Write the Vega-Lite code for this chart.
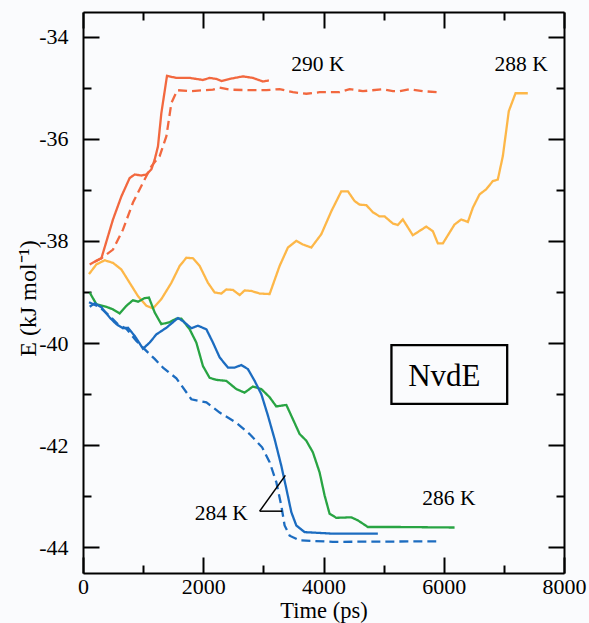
{
  "$schema": "https://vega.github.io/schema/vega-lite/v6.json",
  "width": 481,
  "height": 561,
  "autosize": {"type": "none"},
  "padding": {"left": 83, "top": 12, "right": 25, "bottom": 50},
  "background": "#fafbfd",
  "config": {
    "view": {"stroke": null},
    "font": "Liberation Serif",
    "axis": {
      "grid": false,
      "domainColor": "black",
      "domainWidth": 2,
      "tickColor": "black",
      "tickWidth": 2,
      "labelFont": "Liberation Serif",
      "labelFontSize": 22,
      "labelColor": "black",
      "labelOverlap": false,
      "labelFlush": false,
      "titleFont": "Liberation Serif",
      "titleFontSize": 24,
      "titleFontWeight": "normal",
      "titleColor": "black"
    }
  },
  "datasets": {
    "curves": [
      {"series": "290s", "temp": "290 K", "style": "solid", "time": 111, "energy": -38.46},
      {"series": "290s", "temp": "290 K", "style": "solid", "time": 306, "energy": -38.34},
      {"series": "290s", "temp": "290 K", "style": "solid", "time": 499, "energy": -37.58},
      {"series": "290s", "temp": "290 K", "style": "solid", "time": 638, "energy": -37.13},
      {"series": "290s", "temp": "290 K", "style": "solid", "time": 776, "energy": -36.77},
      {"series": "290s", "temp": "290 K", "style": "solid", "time": 860, "energy": -36.70},
      {"series": "290s", "temp": "290 K", "style": "solid", "time": 971, "energy": -36.72},
      {"series": "290s", "temp": "290 K", "style": "solid", "time": 1054, "energy": -36.70},
      {"series": "290s", "temp": "290 K", "style": "solid", "time": 1137, "energy": -36.60},
      {"series": "290s", "temp": "290 K", "style": "solid", "time": 1192, "energy": -36.41},
      {"series": "290s", "temp": "290 K", "style": "solid", "time": 1247, "energy": -36.15},
      {"series": "290s", "temp": "290 K", "style": "solid", "time": 1303, "energy": -35.50},
      {"series": "290s", "temp": "290 K", "style": "solid", "time": 1397, "energy": -34.77},
      {"series": "290s", "temp": "290 K", "style": "solid", "time": 1553, "energy": -34.81},
      {"series": "290s", "temp": "290 K", "style": "solid", "time": 1774, "energy": -34.81},
      {"series": "290s", "temp": "290 K", "style": "solid", "time": 1995, "energy": -34.85},
      {"series": "290s", "temp": "290 K", "style": "solid", "time": 2106, "energy": -34.81},
      {"series": "290s", "temp": "290 K", "style": "solid", "time": 2218, "energy": -34.83},
      {"series": "290s", "temp": "290 K", "style": "solid", "time": 2301, "energy": -34.87},
      {"series": "290s", "temp": "290 K", "style": "solid", "time": 2439, "energy": -34.83},
      {"series": "290s", "temp": "290 K", "style": "solid", "time": 2660, "energy": -34.78},
      {"series": "290s", "temp": "290 K", "style": "solid", "time": 2826, "energy": -34.81},
      {"series": "290s", "temp": "290 K", "style": "solid", "time": 2993, "energy": -34.88},
      {"series": "290s", "temp": "290 K", "style": "solid", "time": 3092, "energy": -34.86},

      {"series": "290d", "temp": "290 K", "style": "dashed", "time": 200, "energy": -38.40},
      {"series": "290d", "temp": "290 K", "style": "dashed", "time": 306, "energy": -38.34},
      {"series": "290d", "temp": "290 K", "style": "dashed", "time": 499, "energy": -38.17},
      {"series": "290d", "temp": "290 K", "style": "dashed", "time": 665, "energy": -37.78},
      {"series": "290d", "temp": "290 K", "style": "dashed", "time": 831, "energy": -37.25},
      {"series": "290d", "temp": "290 K", "style": "dashed", "time": 998, "energy": -36.86},
      {"series": "290d", "temp": "290 K", "style": "dashed", "time": 1137, "energy": -36.54},
      {"series": "290d", "temp": "290 K", "style": "dashed", "time": 1275, "energy": -36.34},
      {"series": "290d", "temp": "290 K", "style": "dashed", "time": 1387, "energy": -35.95},
      {"series": "290d", "temp": "290 K", "style": "dashed", "time": 1470, "energy": -35.30},
      {"series": "290d", "temp": "290 K", "style": "dashed", "time": 1569, "energy": -35.05},
      {"series": "290d", "temp": "290 K", "style": "dashed", "time": 1774, "energy": -35.07},
      {"series": "290d", "temp": "290 K", "style": "dashed", "time": 2161, "energy": -35.04},
      {"series": "290d", "temp": "290 K", "style": "dashed", "time": 2273, "energy": -35.00},
      {"series": "290d", "temp": "290 K", "style": "dashed", "time": 2439, "energy": -35.04},
      {"series": "290d", "temp": "290 K", "style": "dashed", "time": 2771, "energy": -35.05},
      {"series": "290d", "temp": "290 K", "style": "dashed", "time": 3049, "energy": -35.05},
      {"series": "290d", "temp": "290 K", "style": "dashed", "time": 3270, "energy": -35.03},
      {"series": "290d", "temp": "290 K", "style": "dashed", "time": 3491, "energy": -35.09},
      {"series": "290d", "temp": "290 K", "style": "dashed", "time": 3714, "energy": -35.12},
      {"series": "290d", "temp": "290 K", "style": "dashed", "time": 3935, "energy": -35.09},
      {"series": "290d", "temp": "290 K", "style": "dashed", "time": 4268, "energy": -35.09},
      {"series": "290d", "temp": "290 K", "style": "dashed", "time": 4434, "energy": -35.03},
      {"series": "290d", "temp": "290 K", "style": "dashed", "time": 4655, "energy": -35.07},
      {"series": "290d", "temp": "290 K", "style": "dashed", "time": 4988, "energy": -35.03},
      {"series": "290d", "temp": "290 K", "style": "dashed", "time": 5154, "energy": -35.07},
      {"series": "290d", "temp": "290 K", "style": "dashed", "time": 5265, "energy": -35.07},
      {"series": "290d", "temp": "290 K", "style": "dashed", "time": 5431, "energy": -35.03},
      {"series": "290d", "temp": "290 K", "style": "dashed", "time": 5653, "energy": -35.07},
      {"series": "290d", "temp": "290 K", "style": "dashed", "time": 5902, "energy": -35.09},

      {"series": "288s", "temp": "288 K", "style": "solid", "time": 100, "energy": -38.65},
      {"series": "288s", "temp": "288 K", "style": "solid", "time": 223, "energy": -38.46},
      {"series": "288s", "temp": "288 K", "style": "solid", "time": 361, "energy": -38.38},
      {"series": "288s", "temp": "288 K", "style": "solid", "time": 499, "energy": -38.43},
      {"series": "288s", "temp": "288 K", "style": "solid", "time": 638, "energy": -38.56},
      {"series": "288s", "temp": "288 K", "style": "solid", "time": 776, "energy": -38.82},
      {"series": "288s", "temp": "288 K", "style": "solid", "time": 914, "energy": -39.08},
      {"series": "288s", "temp": "288 K", "style": "solid", "time": 1054, "energy": -39.27},
      {"series": "288s", "temp": "288 K", "style": "solid", "time": 1164, "energy": -39.32},
      {"series": "288s", "temp": "288 K", "style": "solid", "time": 1303, "energy": -39.14},
      {"series": "288s", "temp": "288 K", "style": "solid", "time": 1470, "energy": -38.82},
      {"series": "288s", "temp": "288 K", "style": "solid", "time": 1608, "energy": -38.49},
      {"series": "288s", "temp": "288 K", "style": "solid", "time": 1719, "energy": -38.33},
      {"series": "288s", "temp": "288 K", "style": "solid", "time": 1829, "energy": -38.34},
      {"series": "288s", "temp": "288 K", "style": "solid", "time": 1940, "energy": -38.49},
      {"series": "288s", "temp": "288 K", "style": "solid", "time": 2078, "energy": -38.82},
      {"series": "288s", "temp": "288 K", "style": "solid", "time": 2190, "energy": -39.01},
      {"series": "288s", "temp": "288 K", "style": "solid", "time": 2301, "energy": -39.03},
      {"series": "288s", "temp": "288 K", "style": "solid", "time": 2384, "energy": -38.95},
      {"series": "288s", "temp": "288 K", "style": "solid", "time": 2494, "energy": -38.96},
      {"series": "288s", "temp": "288 K", "style": "solid", "time": 2605, "energy": -39.06},
      {"series": "288s", "temp": "288 K", "style": "solid", "time": 2688, "energy": -38.97},
      {"series": "288s", "temp": "288 K", "style": "solid", "time": 2800, "energy": -38.98},
      {"series": "288s", "temp": "288 K", "style": "solid", "time": 2938, "energy": -39.03},
      {"series": "288s", "temp": "288 K", "style": "solid", "time": 3104, "energy": -39.04},
      {"series": "288s", "temp": "288 K", "style": "solid", "time": 3270, "energy": -38.49},
      {"series": "288s", "temp": "288 K", "style": "solid", "time": 3408, "energy": -38.13},
      {"series": "288s", "temp": "288 K", "style": "solid", "time": 3548, "energy": -38.00},
      {"series": "288s", "temp": "288 K", "style": "solid", "time": 3658, "energy": -38.07},
      {"series": "288s", "temp": "288 K", "style": "solid", "time": 3797, "energy": -38.13},
      {"series": "288s", "temp": "288 K", "style": "solid", "time": 3963, "energy": -37.87},
      {"series": "288s", "temp": "288 K", "style": "solid", "time": 4130, "energy": -37.42},
      {"series": "288s", "temp": "288 K", "style": "solid", "time": 4296, "energy": -37.03},
      {"series": "288s", "temp": "288 K", "style": "solid", "time": 4406, "energy": -37.03},
      {"series": "288s", "temp": "288 K", "style": "solid", "time": 4517, "energy": -37.22},
      {"series": "288s", "temp": "288 K", "style": "solid", "time": 4600, "energy": -37.29},
      {"series": "288s", "temp": "288 K", "style": "solid", "time": 4712, "energy": -37.30},
      {"series": "288s", "temp": "288 K", "style": "solid", "time": 4821, "energy": -37.44},
      {"series": "288s", "temp": "288 K", "style": "solid", "time": 4933, "energy": -37.52},
      {"series": "288s", "temp": "288 K", "style": "solid", "time": 5016, "energy": -37.52},
      {"series": "288s", "temp": "288 K", "style": "solid", "time": 5154, "energy": -37.66},
      {"series": "288s", "temp": "288 K", "style": "solid", "time": 5237, "energy": -37.69},
      {"series": "288s", "temp": "288 K", "style": "solid", "time": 5320, "energy": -37.58},
      {"series": "288s", "temp": "288 K", "style": "solid", "time": 5486, "energy": -37.89},
      {"series": "288s", "temp": "288 K", "style": "solid", "time": 5709, "energy": -37.72},
      {"series": "288s", "temp": "288 K", "style": "solid", "time": 5819, "energy": -37.81},
      {"series": "288s", "temp": "288 K", "style": "solid", "time": 5902, "energy": -38.05},
      {"series": "288s", "temp": "288 K", "style": "solid", "time": 5985, "energy": -38.05},
      {"series": "288s", "temp": "288 K", "style": "solid", "time": 6179, "energy": -37.68},
      {"series": "288s", "temp": "288 K", "style": "solid", "time": 6291, "energy": -37.58},
      {"series": "288s", "temp": "288 K", "style": "solid", "time": 6401, "energy": -37.63},
      {"series": "288s", "temp": "288 K", "style": "solid", "time": 6484, "energy": -37.35},
      {"series": "288s", "temp": "288 K", "style": "solid", "time": 6595, "energy": -37.09},
      {"series": "288s", "temp": "288 K", "style": "solid", "time": 6706, "energy": -36.99},
      {"series": "288s", "temp": "288 K", "style": "solid", "time": 6816, "energy": -36.83},
      {"series": "288s", "temp": "288 K", "style": "solid", "time": 6899, "energy": -36.80},
      {"series": "288s", "temp": "288 K", "style": "solid", "time": 6983, "energy": -36.34},
      {"series": "288s", "temp": "288 K", "style": "solid", "time": 7082, "energy": -35.46},
      {"series": "288s", "temp": "288 K", "style": "solid", "time": 7194, "energy": -35.11},
      {"series": "288s", "temp": "288 K", "style": "solid", "time": 7398, "energy": -35.11},

      {"series": "286s", "temp": "286 K", "style": "solid", "time": 111, "energy": -39.01},
      {"series": "286s", "temp": "286 K", "style": "solid", "time": 223, "energy": -39.24},
      {"series": "286s", "temp": "286 K", "style": "solid", "time": 389, "energy": -39.29},
      {"series": "286s", "temp": "286 K", "style": "solid", "time": 499, "energy": -39.34},
      {"series": "286s", "temp": "286 K", "style": "solid", "time": 610, "energy": -39.42},
      {"series": "286s", "temp": "286 K", "style": "solid", "time": 722, "energy": -39.27},
      {"series": "286s", "temp": "286 K", "style": "solid", "time": 831, "energy": -39.16},
      {"series": "286s", "temp": "286 K", "style": "solid", "time": 914, "energy": -39.19},
      {"series": "286s", "temp": "286 K", "style": "solid", "time": 1026, "energy": -39.12},
      {"series": "286s", "temp": "286 K", "style": "solid", "time": 1097, "energy": -39.11},
      {"series": "286s", "temp": "286 K", "style": "solid", "time": 1192, "energy": -39.40},
      {"series": "286s", "temp": "286 K", "style": "solid", "time": 1303, "energy": -39.63},
      {"series": "286s", "temp": "286 K", "style": "solid", "time": 1442, "energy": -39.59},
      {"series": "286s", "temp": "286 K", "style": "solid", "time": 1553, "energy": -39.52},
      {"series": "286s", "temp": "286 K", "style": "solid", "time": 1636, "energy": -39.52},
      {"series": "286s", "temp": "286 K", "style": "solid", "time": 1774, "energy": -39.73},
      {"series": "286s", "temp": "286 K", "style": "solid", "time": 1885, "energy": -39.99},
      {"series": "286s", "temp": "286 K", "style": "solid", "time": 1995, "energy": -40.45},
      {"series": "286s", "temp": "286 K", "style": "solid", "time": 2106, "energy": -40.68},
      {"series": "286s", "temp": "286 K", "style": "solid", "time": 2218, "energy": -40.72},
      {"series": "286s", "temp": "286 K", "style": "solid", "time": 2384, "energy": -40.74},
      {"series": "286s", "temp": "286 K", "style": "solid", "time": 2550, "energy": -40.90},
      {"series": "286s", "temp": "286 K", "style": "solid", "time": 2688, "energy": -40.97},
      {"series": "286s", "temp": "286 K", "style": "solid", "time": 2826, "energy": -40.85},
      {"series": "286s", "temp": "286 K", "style": "solid", "time": 2966, "energy": -40.90},
      {"series": "286s", "temp": "286 K", "style": "solid", "time": 3104, "energy": -41.06},
      {"series": "286s", "temp": "286 K", "style": "solid", "time": 3215, "energy": -41.24},
      {"series": "286s", "temp": "286 K", "style": "solid", "time": 3382, "energy": -41.21},
      {"series": "286s", "temp": "286 K", "style": "solid", "time": 3491, "energy": -41.49},
      {"series": "286s", "temp": "286 K", "style": "solid", "time": 3603, "energy": -41.78},
      {"series": "286s", "temp": "286 K", "style": "solid", "time": 3714, "energy": -41.91},
      {"series": "286s", "temp": "286 K", "style": "solid", "time": 3824, "energy": -42.14},
      {"series": "286s", "temp": "286 K", "style": "solid", "time": 3935, "energy": -42.53},
      {"series": "286s", "temp": "286 K", "style": "solid", "time": 4018, "energy": -42.98},
      {"series": "286s", "temp": "286 K", "style": "solid", "time": 4101, "energy": -43.34},
      {"series": "286s", "temp": "286 K", "style": "solid", "time": 4213, "energy": -43.42},
      {"series": "286s", "temp": "286 K", "style": "solid", "time": 4462, "energy": -43.41},
      {"series": "286s", "temp": "286 K", "style": "solid", "time": 4572, "energy": -43.47},
      {"series": "286s", "temp": "286 K", "style": "solid", "time": 4738, "energy": -43.60},
      {"series": "286s", "temp": "286 K", "style": "solid", "time": 5265, "energy": -43.60},
      {"series": "286s", "temp": "286 K", "style": "solid", "time": 6180, "energy": -43.61},

      {"series": "284s", "temp": "284 K", "style": "solid", "time": 111, "energy": -39.29},
      {"series": "284s", "temp": "284 K", "style": "solid", "time": 195, "energy": -39.22},
      {"series": "284s", "temp": "284 K", "style": "solid", "time": 306, "energy": -39.30},
      {"series": "284s", "temp": "284 K", "style": "solid", "time": 444, "energy": -39.50},
      {"series": "284s", "temp": "284 K", "style": "solid", "time": 555, "energy": -39.63},
      {"series": "284s", "temp": "284 K", "style": "solid", "time": 665, "energy": -39.71},
      {"series": "284s", "temp": "284 K", "style": "solid", "time": 748, "energy": -39.70},
      {"series": "284s", "temp": "284 K", "style": "solid", "time": 860, "energy": -39.86},
      {"series": "284s", "temp": "284 K", "style": "solid", "time": 998, "energy": -40.11},
      {"series": "284s", "temp": "284 K", "style": "solid", "time": 1109, "energy": -39.99},
      {"series": "284s", "temp": "284 K", "style": "solid", "time": 1220, "energy": -39.83},
      {"series": "284s", "temp": "284 K", "style": "solid", "time": 1387, "energy": -39.70},
      {"series": "284s", "temp": "284 K", "style": "solid", "time": 1579, "energy": -39.51},
      {"series": "284s", "temp": "284 K", "style": "solid", "time": 1663, "energy": -39.57},
      {"series": "284s", "temp": "284 K", "style": "solid", "time": 1802, "energy": -39.71},
      {"series": "284s", "temp": "284 K", "style": "solid", "time": 1912, "energy": -39.66},
      {"series": "284s", "temp": "284 K", "style": "solid", "time": 2052, "energy": -39.73},
      {"series": "284s", "temp": "284 K", "style": "solid", "time": 2161, "energy": -39.99},
      {"series": "284s", "temp": "284 K", "style": "solid", "time": 2273, "energy": -40.28},
      {"series": "284s", "temp": "284 K", "style": "solid", "time": 2411, "energy": -40.48},
      {"series": "284s", "temp": "284 K", "style": "solid", "time": 2522, "energy": -40.48},
      {"series": "284s", "temp": "284 K", "style": "solid", "time": 2633, "energy": -40.43},
      {"series": "284s", "temp": "284 K", "style": "solid", "time": 2743, "energy": -40.51},
      {"series": "284s", "temp": "284 K", "style": "solid", "time": 2855, "energy": -40.74},
      {"series": "284s", "temp": "284 K", "style": "solid", "time": 2966, "energy": -41.00},
      {"series": "284s", "temp": "284 K", "style": "solid", "time": 3076, "energy": -41.42},
      {"series": "284s", "temp": "284 K", "style": "solid", "time": 3187, "energy": -41.88},
      {"series": "284s", "temp": "284 K", "style": "solid", "time": 3298, "energy": -42.40},
      {"series": "284s", "temp": "284 K", "style": "solid", "time": 3382, "energy": -42.85},
      {"series": "284s", "temp": "284 K", "style": "solid", "time": 3465, "energy": -43.31},
      {"series": "284s", "temp": "284 K", "style": "solid", "time": 3548, "energy": -43.57},
      {"series": "284s", "temp": "284 K", "style": "solid", "time": 3686, "energy": -43.70},
      {"series": "284s", "temp": "284 K", "style": "solid", "time": 4156, "energy": -43.73},
      {"series": "284s", "temp": "284 K", "style": "solid", "time": 4904, "energy": -43.73},

      {"series": "284d", "temp": "284 K", "style": "dashed", "time": 100, "energy": -39.20},
      {"series": "284d", "temp": "284 K", "style": "dashed", "time": 278, "energy": -39.30},
      {"series": "284d", "temp": "284 K", "style": "dashed", "time": 444, "energy": -39.47},
      {"series": "284d", "temp": "284 K", "style": "dashed", "time": 577, "energy": -39.63},
      {"series": "284d", "temp": "284 K", "style": "dashed", "time": 722, "energy": -39.72},
      {"series": "284d", "temp": "284 K", "style": "dashed", "time": 888, "energy": -39.96},
      {"series": "284d", "temp": "284 K", "style": "dashed", "time": 998, "energy": -40.09},
      {"series": "284d", "temp": "284 K", "style": "dashed", "time": 1192, "energy": -40.31},
      {"series": "284d", "temp": "284 K", "style": "dashed", "time": 1330, "energy": -40.48},
      {"series": "284d", "temp": "284 K", "style": "dashed", "time": 1553, "energy": -40.69},
      {"series": "284d", "temp": "284 K", "style": "dashed", "time": 1802, "energy": -41.10},
      {"series": "284d", "temp": "284 K", "style": "dashed", "time": 2052, "energy": -41.16},
      {"series": "284d", "temp": "284 K", "style": "dashed", "time": 2273, "energy": -41.36},
      {"series": "284d", "temp": "284 K", "style": "dashed", "time": 2550, "energy": -41.56},
      {"series": "284d", "temp": "284 K", "style": "dashed", "time": 2771, "energy": -41.78},
      {"series": "284d", "temp": "284 K", "style": "dashed", "time": 2979, "energy": -42.04},
      {"series": "284d", "temp": "284 K", "style": "dashed", "time": 3104, "energy": -42.33},
      {"series": "284d", "temp": "284 K", "style": "dashed", "time": 3215, "energy": -42.72},
      {"series": "284d", "temp": "284 K", "style": "dashed", "time": 3298, "energy": -43.18},
      {"series": "284d", "temp": "284 K", "style": "dashed", "time": 3353, "energy": -43.57},
      {"series": "284d", "temp": "284 K", "style": "dashed", "time": 3437, "energy": -43.77},
      {"series": "284d", "temp": "284 K", "style": "dashed", "time": 3603, "energy": -43.86},
      {"series": "284d", "temp": "284 K", "style": "dashed", "time": 4156, "energy": -43.89},
      {"series": "284d", "temp": "284 K", "style": "dashed", "time": 5875, "energy": -43.88}
    ],
    "labels": [
      {"label": "290 K", "time": 3465, "energy": -34.67},
      {"label": "288 K", "time": 6845, "energy": -34.67},
      {"label": "286 K", "time": 5643, "energy": -43.16},
      {"label": "284 K", "time": 1857, "energy": -43.47}
    ],
    "title": [
      {"label": "NvdE", "time": 6010, "energy": -40.84}
    ],
    "box": [
      {"time": 5130, "time2": 7055, "energy": -40.04, "energy2": -41.19}
    ],
    "pointer": [
      {"time": 2938, "energy": -43.29, "time2": 3366, "energy2": -42.59},
      {"time": 2938, "energy": -43.29, "time2": 3315, "energy2": -43.29}
    ]
  },
  "layer": [
    {
      "data": {"name": "curves"},
      "mark": {"type": "line", "strokeWidth": 2.3},
      "encoding": {
        "x": {
          "field": "time", "type": "quantitative",
          "scale": {"domain": [0, 8000], "nice": false, "zero": false},
          "axis": {
            "orient": "bottom",
            "values": [0, 1000, 2000, 3000, 4000, 5000, 6000, 7000, 8000],
            "labelExpr": "datum.value % 2000 === 0 ? '' + datum.value : ''",
            "labelFont": "Liberation Serif",
            "labelFontSize": 22,
            "tickSize": {"condition": {"test": "datum.value % 2000 === 0", "value": -16}, "value": -8},
            "labelPadding": 19,
            "title": "Time (ps)",
            "titleFont": "Liberation Serif",
            "titleFontSize": 22.5,
            "titleY": 49,
            "titleBaseline": "bottom"
          }
        },
        "y": {
          "field": "energy", "type": "quantitative",
          "scale": {"domain": [-44.5, -33.52], "nice": false, "zero": false},
          "axis": {
            "orient": "left",
            "values": [-44, -43, -42, -41, -40, -39, -38, -37, -36, -35, -34],
            "labelExpr": "datum.value % 2 === 0 ? '' + datum.value : ''",
            "labelFont": "Liberation Serif",
            "labelFontSize": 22,
            "tickSize": {"condition": {"test": "datum.value % 2 === 0", "value": -16}, "value": -8},
            "labelPadding": 31,
            "title": "E (kJ mol⁻¹)",
            "titleFont": "Liberation Serif",
            "titleX": -55,
            "titleY": 286,
            "titleAngle": -90,
            "titleAlign": "center",
            "titleBaseline": "middle"
          }
        },
        "color": {
          "field": "temp", "type": "nominal",
          "scale": {"domain": ["284 K", "286 K", "288 K", "290 K"], "range": ["#1c6cc0", "#28a443", "#fdb748", "#f2683f"]},
          "legend": null
        },
        "strokeDash": {
          "field": "style", "type": "nominal",
          "scale": {"domain": ["solid", "dashed"], "range": [[1, 0], [9, 5]]},
          "legend": null
        },
        "detail": {"field": "series"}
      }
    },
    {
      "data": {"name": "labels"},
      "mark": {"type": "text", "align": "left", "baseline": "alphabetic", "font": "Liberation Serif", "fontSize": 21.5, "color": "black"},
      "encoding": {
        "x": {
          "field": "time", "type": "quantitative",
          "axis": {
            "orient": "top",
            "values": [0, 1000, 2000, 3000, 4000, 5000, 6000, 7000, 8000],
            "labels": false,
            "tickSize": {"condition": {"test": "datum.value % 2000 === 0", "value": -16}, "value": -8},
            "title": null
          }
        },
        "y": {
          "field": "energy", "type": "quantitative",
          "axis": {
            "orient": "right",
            "values": [-44, -43, -42, -41, -40, -39, -38, -37, -36, -35, -34],
            "labels": false,
            "tickSize": {"condition": {"test": "datum.value % 2 === 0", "value": -16}, "value": -8},
            "title": null
          }
        },
        "text": {"field": "label"}
      }
    },
    {
      "data": {"name": "title"},
      "mark": {"type": "text", "align": "center", "baseline": "alphabetic", "font": "Liberation Serif", "fontSize": 31, "color": "black"},
      "encoding": {
        "x": {"field": "time", "type": "quantitative", "axis": null},
        "y": {"field": "energy", "type": "quantitative", "axis": null},
        "text": {"field": "label"}
      }
    },
    {
      "data": {"name": "box"},
      "mark": {"type": "rect", "fill": null, "fillOpacity": 0, "stroke": "black", "strokeWidth": 2.3},
      "encoding": {
        "x": {"field": "time", "type": "quantitative", "axis": null},
        "x2": {"field": "time2"},
        "y": {"field": "energy", "type": "quantitative", "axis": null},
        "y2": {"field": "energy2"}
      }
    },
    {
      "data": {"name": "pointer"},
      "mark": {"type": "rule", "stroke": "black", "strokeWidth": 1.5},
      "encoding": {
        "x": {"field": "time", "type": "quantitative", "axis": null},
        "x2": {"field": "time2"},
        "y": {"field": "energy", "type": "quantitative", "axis": null},
        "y2": {"field": "energy2"}
      }
    }
  ],
  "resolve": {"axis": {"x": "independent", "y": "independent"}}
}
